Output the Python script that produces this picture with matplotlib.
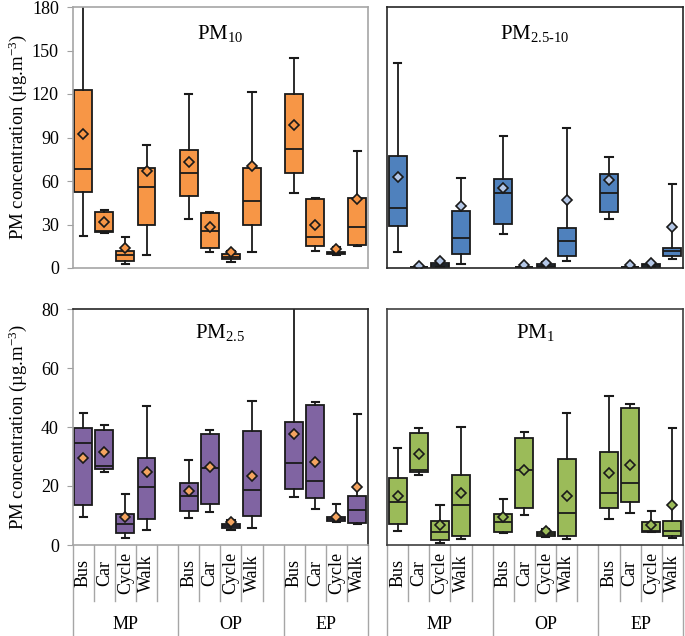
import matplotlib
matplotlib.use("Agg")
import matplotlib.pyplot as plt
from matplotlib.transforms import blended_transform_factory

plt.rcParams['font.family'] = ['Liberation Serif', 'DejaVu Serif']
plt.rcParams['mathtext.fontset'] = 'custom'
plt.rcParams['mathtext.rm'] = 'Liberation Serif'
plt.rcParams['mathtext.it'] = 'Liberation Serif:italic'
plt.rcParams['mathtext.bf'] = 'Liberation Serif:bold'

# ---------------- data ----------------
modes = ["Bus", "Car", "Cycle", "Walk"]
periods = ["MP", "OP", "EP"]
# order: MP Bus, MP Car, MP Cycle, MP Walk, OP ..., EP ...
pm10_wlo = [22, 24, 3, 9, 34, 11, 4, 11, 51.5, 12, 9, 15]
pm10_q1 = [52.4, 24.6, 5, 29.7, 50, 14, 6, 30, 65.7, 15.4, 9.5, 16]
pm10_med = [68, 25.8, 9, 55.6, 65.3, 25.2, 7.5, 46, 82, 21.2, 10.3, 28.5]
pm10_q3 = [122.8, 38.5, 12, 68.8, 81.4, 37.7, 9.5, 68.8, 119.8, 47.4, 11, 48.5]
pm10_whi = [215, 40, 21.6, 85, 120, 38.8, 12, 121.6, 144.6, 48.5, 14.5, 80.7]
pm10_mean = [92.4, 32, 14, 67, 73.3, 28, 11, 70.4, 98.4, 29.7, 13, 47.6]

pmc_wlo = [10.8, 0.2, 0.5, 2.8, 23.2, 0.3, 0.3, 4.8, 33.8, 0.2, 0.5, 6]
pmc_q1 = [29, 0.4, 1, 9.7, 30.1, 0.6, 0.5, 8.3, 38.8, 0.5, 1, 8.5]
pmc_med = [41.6, 0.6, 2, 20.5, 51.5, 0.8, 1.5, 18.8, 51.5, 0.7, 1.8, 11.7]
pmc_q3 = [77.5, 0.8, 3.7, 39.5, 61.4, 1.0, 2.5, 27.8, 64.8, 0.9, 2.8, 14]
pmc_whi = [141.6, 1.0, 5, 62.3, 91.2, 1.2, 4, 96.8, 76.8, 1.1, 3.5, 57.7]
pmc_mean = [63, 1.2, 4.8, 43, 55, 2.2, 3.7, 46.9, 60.7, 1.8, 3.2, 28.5]

pm25_wlo = [9.4, 24.6, 2.5, 5.1, 9, 11.3, 5.1, 5.9, 16.4, 12.1, 7.7, 7]
pm25_q1 = [13.6, 25.7, 4, 8.7, 11.6, 13.8, 5.9, 9.9, 18.9, 15.8, 8, 7.4]
pm25_med = [34.5, 26.8, 7.1, 19.6, 16.7, 26, 6.5, 18.6, 27.7, 21.8, 8.7, 11.9]
pm25_q3 = [39.8, 39, 10.5, 29.4, 20.9, 37.5, 7.1, 38.7, 41.6, 47.5, 9.4, 16.7]
pm25_whi = [44.8, 40.7, 17.3, 47.2, 28.8, 39, 8.5, 48.9, 90, 48.6, 13.8, 44.3]
pm25_mean = [29.4, 31.4, 9.6, 24.6, 18.3, 26.5, 7.9, 23.4, 37.6, 28, 9.6, 19.8]

pm1_wlo = [4.7, 23.7, 0.6, 2, 4, 10.2, 2.8, 1.9, 8.7, 11, 4.3, 2.5]
pm1_q1 = [7, 24.8, 1.7, 3.1, 4.5, 12.6, 3.1, 3.2, 12.4, 14.5, 4.3, 3.1]
pm1_med = [14.5, 25.4, 4.5, 13.6, 7.9, 25.4, 3.8, 10.7, 17.5, 20.9, 4.6, 4.8]
pm1_q3 = [22.8, 38.1, 8.2, 23.7, 10.5, 36.4, 4.4, 29, 31.6, 46.3, 7.7, 8.1]
pm1_whi = [32.8, 39.8, 13.6, 40.1, 15.5, 38.4, 5.4, 44.6, 50.5, 47.7, 11.5, 39.8]
pm1_mean = [16.7, 30.7, 6.7, 17.7, 9.6, 25.4, 4.7, 16.7, 24.5, 27.1, 6.7, 13.6]

titles = [r"PM$_{10}$", r"PM$_{2.5\text{-}10}$", r"PM$_{2.5}$", r"PM$_{1}$"]
ylabel = r"PM concentration (µg.m$^{-3}$)"
top_ticks = [0, 30, 60, 90, 120, 150, 180]
bot_ticks = [0, 20, 40, 60, 80]

# ---------------- layout ----------------
W, H = 685, 636
fig = plt.figure(figsize=(W / 100, H / 100), dpi=100)

def frac(x0, y0, x1, y1):
    return [x0 / W, 1 - y1 / H, (x1 - x0) / W, (y1 - y0) / H]

ax_tl = fig.add_axes(frac(72.7, 7, 368, 268))
ax_tr = fig.add_axes(frac(387, 7, 683, 268))
ax_bl = fig.add_axes(frac(72.7, 309, 368, 545))
ax_br = fig.add_axes(frac(387, 309, 683, 545))

positions = [0, 1, 2, 3, 5, 6, 7, 8, 10, 11, 12, 13]

panels = [
    (ax_tl, (pm10_wlo, pm10_q1, pm10_med, pm10_q3, pm10_whi, pm10_mean), "#F79646", "#F79646", 180, top_ticks, True, titles[0]),
    (ax_tr, (pmc_wlo, pmc_q1, pmc_med, pmc_q3, pmc_whi, pmc_mean), "#4F81BD", "#B4C7E7", 180, top_ticks, False, titles[1]),
    (ax_bl, (pm25_wlo, pm25_q1, pm25_med, pm25_q3, pm25_whi, pm25_mean), "#8064A2", "#F4A460", 80, bot_ticks, True, titles[2]),
    (ax_br, (pm1_wlo, pm1_q1, pm1_med, pm1_q3, pm1_whi, pm1_mean), "#9BBB59", "#9BBB59", 80, bot_ticks, False, titles[3]),
]

edge = "#1a1a1a"
for ax, arrs, fc, mc, ymax, ticks, showy, title in panels:
    wlo, q1, med, q3, whi, mean = arrs
    stats = []
    for i in range(len(positions)):
        stats.append(dict(whislo=wlo[i], q1=q1[i], med=med[i], q3=q3[i],
                          whishi=whi[i], mean=mean[i], fliers=[]))
    ax.bxp(stats, positions=positions, widths=0.85, patch_artist=True,
           showmeans=True, showfliers=False,
           boxprops=dict(facecolor=fc, edgecolor=edge, linewidth=1.3),
           medianprops=dict(color=edge, linewidth=1.3),
           whiskerprops=dict(color=edge, linewidth=1.3),
           capprops=dict(color=edge, linewidth=1.5),
           capwidths=0.35,
           meanprops=dict(marker="D", markerfacecolor=mc, markeredgecolor=edge,
                          markersize=5, markeredgewidth=1.2))
    ax.set_xlim(-0.5, 13.5)
    ax.set_ylim(0, ymax)
    ax.set_xticks([])
    ax.text(0.5, 0.9, title, transform=ax.transAxes, ha="center", va="center",
            fontsize=15)
    if showy:
        ax.set_yticks(ticks)
        ax.set_yticklabels([str(t) for t in ticks], fontsize=13)
        ax.tick_params(axis="y", direction="out", length=4, color="#a0a0a0", pad=6)
    else:
        ax.set_yticks([])

# spine colours
for s in ax_tl.spines.values():
    s.set_color("#a6a6a6"); s.set_linewidth(1.2)
for s in ax_tr.spines.values():
    s.set_color("#262626"); s.set_linewidth(1.2)
for name, s in ax_bl.spines.items():
    s.set_linewidth(1.2)
    s.set_color("#a6a6a6" if name in ("left", "bottom") else "#262626")
for name, s in ax_br.spines.items():
    s.set_linewidth(1.2)
    s.set_color("#404040")

# category axis below bottom panels
for ax in (ax_bl, ax_br):
    tr = blended_transform_factory(ax.transData, ax.transAxes)
    seps = [i + 0.5 for i in range(13)]
    long_seps = [-0.5, 4.5, 9.5, 13.5]
    for x in seps:
        if x in long_seps:
            continue
        ax.plot([x, x], [0, -0.237], transform=tr, color="#a6a6a6", lw=1.0,
                clip_on=False)
    for x in long_seps:
        ax.plot([x, x], [0, -0.39], transform=tr, color="#a6a6a6", lw=1.0,
                clip_on=False)
    for p in positions:
        ax.text(p, -0.12, modes[p % 5], transform=tr, rotation=90,
                ha="center", va="center", fontsize=13)
    for g, name in enumerate(periods):
        xc = [2, 7, 11.5][g]
        ax.text(xc, -0.335, name, transform=tr, ha="center", va="center",
                fontsize=13)

# y labels
fig.text(18 / W, 1 - 137 / H, ylabel, rotation=90, ha="center", va="center", fontsize=13.5)
fig.text(18 / W, 1 - 427 / H, ylabel, rotation=90, ha="center", va="center", fontsize=13.5)

fig.savefig("out.png", dpi=100)
